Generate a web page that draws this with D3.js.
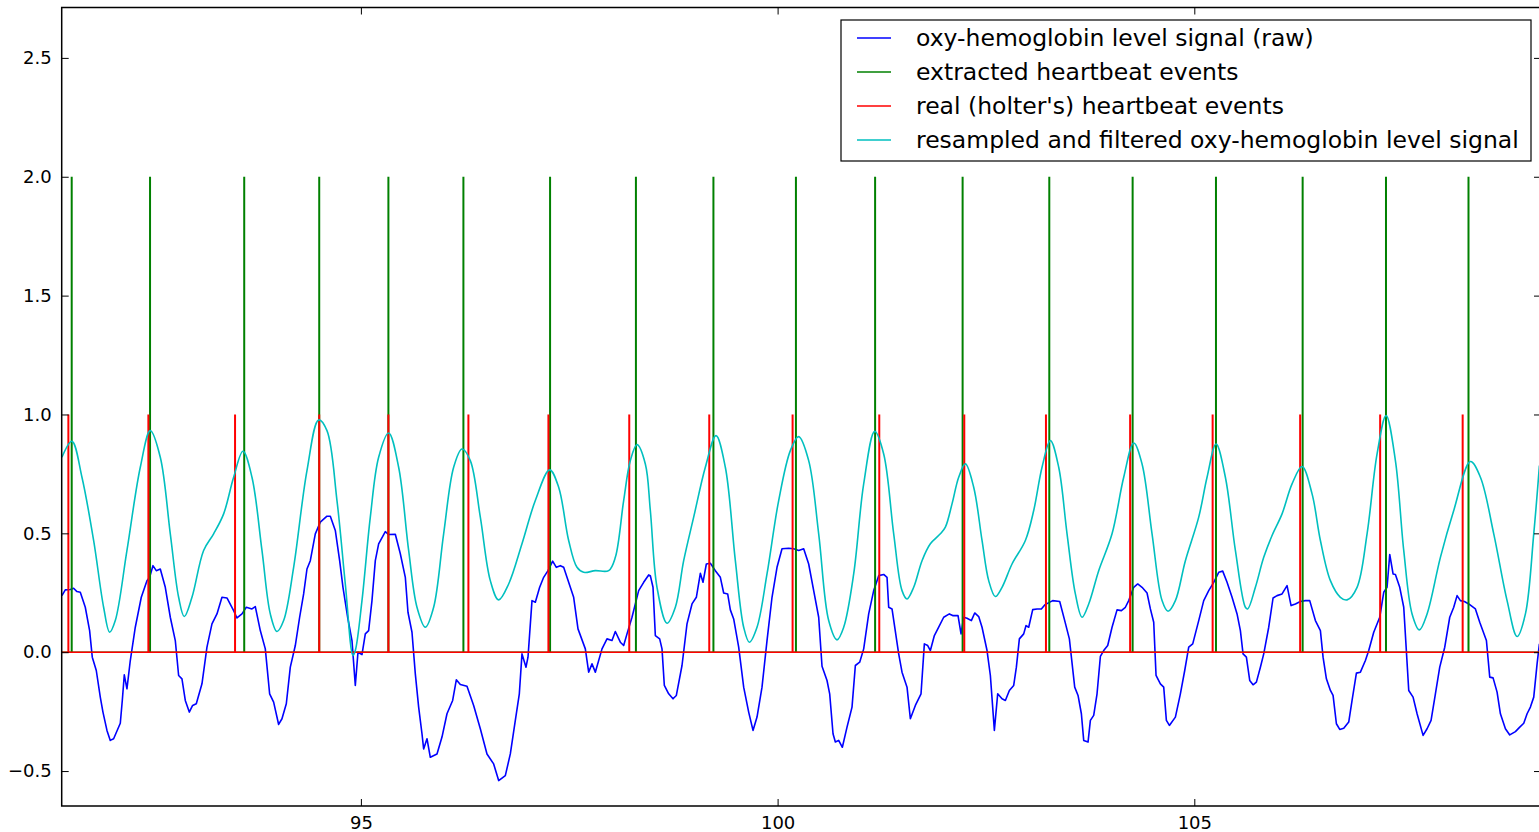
<!DOCTYPE html>
<html>
<head>
<meta charset="utf-8">
<script src="https://cdn.jsdelivr.net/npm/d3@7"></script>
<style>
	body {margin: 0; background: #fff;}
	text {font-family: "DejaVu Sans", sans-serif; fill: #000;}
</style>
</head>
<body>
<svg id="chart" width="1539" height="832"></svg>
<script>
// Raw oxy-hemoglobin level signal, [time, level].
var rawSignal = [
	[91.413,0.238],[91.453,0.262],[91.513,0.264],[91.553,0.269],[91.593,0.255],[91.633,0.252],[91.693,0.189],
	[91.745,0.091],[91.777,-0.021],[91.825,-0.077],[91.873,-0.189],[91.905,-0.252],[91.953,-0.329],[91.993,-0.371],
	[92.033,-0.364],[92.113,-0.299],[92.137,-0.203],[92.161,-0.095],[92.193,-0.154],[92.233,-0.035],[92.293,0.105],
	[92.365,0.231],[92.433,0.301],[92.465,0.315],[92.505,0.364],[92.545,0.343],[92.593,0.350],[92.653,0.273],
	[92.713,0.147],[92.773,0.049],[92.813,-0.098],[92.853,-0.112],[92.893,-0.203],[92.941,-0.252],[92.981,-0.224],
	[93.025,-0.217],[93.093,-0.133],[93.153,0.021],[93.213,0.119],[93.273,0.161],[93.333,0.231],[93.393,0.228],
	[93.473,0.175],[93.513,0.144],[93.573,0.161],[93.625,0.189],[93.693,0.182],[93.733,0.192],[93.793,0.091],
	[93.853,0.014],[93.905,-0.175],[93.953,-0.210],[94.013,-0.304],[94.053,-0.280],[94.105,-0.217],[94.153,-0.063],
	[94.213,0.028],[94.265,0.147],[94.313,0.245],[94.353,0.350],[94.393,0.385],[94.453,0.498],[94.513,0.547],
	[94.593,0.572],[94.633,0.572],[94.693,0.512],[94.745,0.385],[94.785,0.273],[94.841,0.147],[94.893,0.049],
	[94.933,-0.140],[94.965,0.000],[95.013,-0.010],[95.053,0.077],[95.093,0.091],[95.133,0.217],[95.173,0.385],
	[95.213,0.456],[95.293,0.507],[95.333,0.495],[95.413,0.496],[95.473,0.414],[95.533,0.315],[95.565,0.168],
	[95.613,0.084],[95.653,-0.091],[95.693,-0.231],[95.733,-0.343],[95.753,-0.407],[95.793,-0.364],[95.833,-0.442],
	[95.913,-0.428],[95.973,-0.357],[96.033,-0.259],[96.101,-0.203],[96.145,-0.116],[96.193,-0.136],[96.273,-0.143],
	[96.353,-0.224],[96.433,-0.322],[96.513,-0.428],[96.593,-0.470],[96.653,-0.540],[96.733,-0.519],[96.793,-0.428],
	[96.853,-0.287],[96.901,-0.175],[96.933,-0.007],[96.981,-0.063],[97.005,-0.021],[97.053,0.217],[97.093,0.210],
	[97.145,0.273],[97.193,0.315],[97.245,0.343],[97.301,0.383],[97.345,0.357],[97.393,0.364],[97.433,0.357],
	[97.473,0.315],[97.553,0.231],[97.605,0.098],[97.693,0.014],[97.733,-0.084],[97.773,-0.049],[97.813,-0.084],
	[97.893,0.014],[97.953,0.056],[98.013,0.049],[98.053,0.087],[98.113,0.042],[98.153,0.028],[98.193,0.077],
	[98.253,0.147],[98.333,0.259],[98.393,0.294],[98.453,0.325],[98.473,0.322],[98.505,0.273],[98.533,0.070],
	[98.585,0.056],[98.613,0.014],[98.641,-0.140],[98.693,-0.175],[98.745,-0.196],[98.785,-0.182],[98.853,-0.056],
	[98.913,0.119],[98.973,0.203],[99.025,0.231],[99.073,0.332],[99.105,0.294],[99.145,0.371],[99.193,0.374],
	[99.253,0.343],[99.313,0.315],[99.353,0.249],[99.401,0.245],[99.433,0.178],[99.473,0.140],[99.533,0.021],
	[99.593,-0.147],[99.653,-0.252],[99.705,-0.329],[99.753,-0.273],[99.813,-0.147],[99.873,0.049],[99.933,0.231],
	[99.993,0.357],[100.053,0.435],[100.133,0.437],[100.193,0.435],[100.253,0.428],[100.313,0.435],[100.373,0.371],
	[100.433,0.259],[100.493,0.147],[100.533,-0.059],[100.593,-0.119],[100.625,-0.175],[100.665,-0.343],[100.693,-0.378],
	[100.733,-0.371],[100.777,-0.400],[100.833,-0.315],[100.893,-0.231],[100.933,-0.056],[100.985,-0.042],[101.033,0.014],
	[101.093,0.161],[101.153,0.259],[101.213,0.322],[101.273,0.327],[101.313,0.315],[101.333,0.189],[101.373,0.182],
	[101.453,-0.007],[101.493,-0.084],[101.553,-0.147],[101.593,-0.280],[101.653,-0.224],[101.721,-0.175],[101.761,0.035],
	[101.801,0.028],[101.833,0.007],[101.881,0.070],[101.933,0.105],[101.993,0.147],[102.061,0.161],[102.101,0.154],
	[102.165,0.154],[102.201,0.077],[102.233,0.147],[102.273,0.143],[102.325,0.133],[102.365,0.165],[102.413,0.150],
	[102.453,0.105],[102.513,0.007],[102.553,-0.098],[102.601,-0.329],[102.641,-0.175],[102.693,-0.196],[102.733,-0.203],
	[102.781,-0.161],[102.833,-0.140],[102.865,-0.063],[102.901,0.056],[102.953,0.077],[102.981,0.112],[103.013,0.105],
	[103.061,0.179],[103.113,0.182],[103.165,0.182],[103.205,0.199],[103.301,0.217],[103.385,0.213],[103.445,0.133],
	[103.501,0.056],[103.565,-0.147],[103.605,-0.182],[103.645,-0.259],[103.673,-0.371],[103.725,-0.378],[103.753,-0.287],
	[103.793,-0.266],[103.833,-0.175],[103.873,-0.018],[103.913,0.007],[103.961,0.028],[104.013,0.105],[104.073,0.178],
	[104.125,0.175],[104.173,0.189],[104.213,0.217],[104.273,0.273],[104.321,0.287],[104.373,0.273],[104.433,0.249],
	[104.473,0.182],[104.513,0.126],[104.541,-0.098],[104.593,-0.133],[104.633,-0.147],[104.665,-0.287],[104.701,-0.308],
	[104.773,-0.273],[104.833,-0.175],[104.885,-0.077],[104.933,0.021],[104.981,0.035],[105.053,0.133],[105.113,0.217],
	[105.173,0.259],[105.233,0.294],[105.293,0.336],[105.341,0.341],[105.393,0.294],[105.453,0.231],[105.513,0.161],
	[105.553,0.091],[105.585,-0.007],[105.625,-0.021],[105.665,-0.119],[105.705,-0.137],[105.745,-0.126],[105.793,-0.063],
	[105.833,-0.007],[105.893,0.105],[105.945,0.228],[105.993,0.238],[106.053,0.245],[106.113,0.280],[106.161,0.196],
	[106.213,0.203],[106.273,0.213],[106.333,0.217],[106.385,0.217],[106.453,0.133],[106.513,0.091],[106.545,-0.021],
	[106.585,-0.112],[106.633,-0.161],[106.665,-0.182],[106.705,-0.301],[106.745,-0.325],[106.793,-0.320],[106.853,-0.294],
	[106.893,-0.203],[106.945,-0.088],[106.993,-0.084],[107.053,-0.035],[107.093,0.007],[107.153,0.084],[107.225,0.147],
	[107.273,0.252],[107.313,0.273],[107.345,0.411],[107.385,0.329],[107.413,0.327],[107.465,0.273],[107.513,0.189],
	[107.573,-0.161],[107.625,-0.189],[107.673,-0.259],[107.745,-0.350],[107.793,-0.322],[107.841,-0.287],[107.893,-0.175],
	[107.945,-0.063],[108.005,0.021],[108.065,0.147],[108.113,0.189],[108.153,0.238],[108.193,0.217],[108.241,0.213],
	[108.293,0.203],[108.373,0.182],[108.425,0.126],[108.505,0.049],[108.545,-0.105],[108.585,-0.108],[108.633,-0.168],
	[108.673,-0.259],[108.733,-0.322],[108.785,-0.348],[108.853,-0.334],[108.905,-0.315],[108.953,-0.299],[108.993,-0.259],
	[109.033,-0.231],[109.073,-0.189],[109.113,-0.049],[109.141,0.035]
];

// Resampled and filtered signal, [time, level].
var filteredSignal = [
	[91.413,0.820],[91.533,0.887],[91.653,0.736],[91.793,0.470],[91.913,0.189],[91.985,0.084],[92.053,0.133],
	[92.193,0.428],[92.353,0.778],[92.473,0.932],[92.593,0.820],[92.713,0.498],[92.813,0.231],[92.881,0.150],
	[92.973,0.231],[93.113,0.428],[93.233,0.498],[93.353,0.582],[93.473,0.736],[93.585,0.845],[93.693,0.736],
	[93.813,0.428],[93.913,0.161],[93.993,0.087],[94.073,0.133],[94.193,0.357],[94.353,0.764],[94.493,0.977],
	[94.593,0.932],[94.713,0.638],[94.813,0.287],[94.905,-0.014],[94.933,0.007],[95.013,0.217],[95.113,0.568],
	[95.213,0.820],[95.333,0.922],[95.453,0.778],[95.573,0.428],[95.673,0.189],[95.773,0.105],[95.873,0.189],
	[95.993,0.498],[96.113,0.778],[96.213,0.855],[96.313,0.806],[96.433,0.568],[96.553,0.301],[96.653,0.220],
	[96.773,0.287],[96.933,0.456],[97.093,0.638],[97.265,0.767],[97.373,0.694],[97.493,0.470],[97.593,0.357],
	[97.673,0.336],[97.813,0.343],[97.973,0.343],[98.053,0.399],[98.153,0.638],[98.233,0.806],[98.313,0.873],
	[98.413,0.792],[98.473,0.596],[98.553,0.273],[98.673,0.122],[98.773,0.189],[98.873,0.385],[98.993,0.568],
	[99.133,0.778],[99.261,0.911],[99.373,0.778],[99.493,0.385],[99.593,0.105],[99.661,0.042],[99.753,0.105],
	[99.873,0.329],[100.013,0.638],[100.153,0.848],[100.253,0.907],[100.373,0.806],[100.493,0.498],[100.613,0.133],
	[100.713,0.052],[100.793,0.105],[100.913,0.329],[101.033,0.708],[101.165,0.929],[101.273,0.834],[101.393,0.498],
	[101.493,0.259],[101.553,0.224],[101.633,0.273],[101.733,0.385],[101.833,0.456],[101.953,0.498],[102.013,0.526],
	[102.093,0.624],[102.173,0.736],[102.253,0.792],[102.353,0.694],[102.453,0.470],[102.533,0.301],[102.613,0.234],
	[102.693,0.273],[102.813,0.371],[102.973,0.470],[103.073,0.596],[103.173,0.778],[103.273,0.890],[103.373,0.778],
	[103.473,0.498],[103.573,0.245],[103.653,0.147],[103.733,0.203],[103.853,0.343],[104.013,0.498],[104.153,0.736],
	[104.273,0.880],[104.373,0.792],[104.493,0.498],[104.613,0.217],[104.685,0.172],[104.773,0.217],[104.893,0.385],
	[105.053,0.568],[105.153,0.736],[105.261,0.876],[105.373,0.736],[105.493,0.428],[105.613,0.189],[105.641,0.182],
	[105.733,0.273],[105.833,0.399],[105.933,0.491],[106.053,0.582],[106.173,0.708],[106.293,0.781],[106.413,0.666],
	[106.513,0.470],[106.633,0.301],[106.753,0.231],[106.833,0.220],[106.953,0.273],[107.073,0.498],[107.193,0.834],
	[107.301,0.995],[107.413,0.806],[107.513,0.428],[107.613,0.161],[107.701,0.094],[107.793,0.161],[107.953,0.399],
	[108.113,0.596],[108.313,0.802],[108.433,0.736],[108.593,0.498],[108.753,0.217],[108.873,0.066],[108.973,0.161],
	[109.073,0.498],[109.141,0.785]
];

// Heartbeat event times.
var extractedBeats = [91.53, 92.47, 93.60, 94.50, 95.33, 96.23, 97.27, 98.30, 99.23,
	100.22, 101.17, 102.22, 103.26, 104.26, 105.26, 106.30, 107.30, 108.29];
var holterBeats = [91.49, 92.45, 93.49, 94.50, 95.33, 96.29, 97.25, 98.22, 99.18,
	100.18, 101.22, 102.24, 103.22, 104.23, 105.22, 106.27, 107.23, 108.22];
var extractedHeight = 2, holterHeight = 1;

var xTicks = [95, 100, 105];
var yTicks = [-0.5, 0.0, 0.5, 1.0, 1.5, 2.0, 2.5];
var legendLabels = [
	'oxy-hemoglobin level signal (raw)',
	'extracted heartbeat events',
	'real (holter\'s) heartbeat events',
	'resampled and filtered oxy-hemoglobin level signal'];
var legendColors = ['#0000ff', '#008000', '#ff0000', '#00bfbf'];

(function() {
	'use strict';

	var svg = d3.select('#chart'),
			left = 61.7, right = 1541, top = 7.5, bottom = 806;

	var x = d3.scaleLinear().domain([91.41, 109.16]).range([left, right]);
	var y = d3.scaleLinear().domain([-0.647, 2.712]).range([bottom, top]);

	svg.append('clipPath').attr('id', 'plot-clip')
		.append('rect')
		.attr('x', left).attr('y', top)
		.attr('width', right - left).attr('height', bottom - top);

	var plot = svg.append('g').attr('clip-path', 'url(#plot-clip)');

	var line = d3.line()
		.x(function(d) {return x(d[0]);})
		.y(function(d) {return y(d[1]);});

	// Raw signal first, then the event traces, then the filtered signal on top.
	plot.append('path')
		.datum(rawSignal)
		.attr('fill', 'none')
		.attr('stroke', legendColors[0])
		.attr('stroke-width', 1.6)
		.attr('stroke-linejoin', 'round')
		.attr('d', line);

	function drawEvents(events, height, color) {
		plot.append('line')
			.attr('x1', left).attr('x2', right)
			.attr('y1', y(0)).attr('y2', y(0))
			.attr('stroke', color)
			.attr('stroke-width', 1.6);
		plot.selectAll(null).data(events).enter()
			.append('line')
			.attr('x1', function(d) {return x(d);})
			.attr('x2', function(d) {return x(d);})
			.attr('y1', y(0))
			.attr('y2', y(height))
			.attr('stroke', color)
			.attr('stroke-width', 2);}

	drawEvents(extractedBeats, extractedHeight, legendColors[1]);
	drawEvents(holterBeats, holterHeight, legendColors[2]);

	plot.append('path')
		.datum(filteredSignal)
		.attr('fill', 'none')
		.attr('stroke', legendColors[3])
		.attr('stroke-width', 1.6)
		.attr('d', line.curve(d3.curveCatmullRom.alpha(0.5)));

	// Axes, ticks pointing inward.
	function styleAxis(g) {
		g.select('.domain').remove();
		g.selectAll('.tick line').attr('stroke', '#000').attr('stroke-width', 1);
		g.selectAll('.tick text')
			.style('font-size', '18px')
			.style('font-family', '"DejaVu Sans", sans-serif')
			.attr('fill', '#000');}

	svg.append('g')
		.attr('transform', 'translate(0,' + bottom + ')')
		.call(d3.axisBottom(x).tickValues(xTicks).tickFormat(d3.format('d'))
			.tickSizeInner(-7).tickSizeOuter(0).tickPadding(10))
		.call(styleAxis);
	svg.append('g')
		.attr('transform', 'translate(0,' + top + ')')
		.call(d3.axisTop(x).tickValues(xTicks).tickFormat('')
			.tickSizeInner(-7).tickSizeOuter(0))
		.call(styleAxis);
	svg.append('g')
		.attr('transform', 'translate(' + left + ',0)')
		.call(d3.axisLeft(y).tickValues(yTicks).tickFormat(d3.format('.1f'))
			.tickSizeInner(-7).tickSizeOuter(0).tickPadding(10))
		.call(styleAxis);
	svg.append('g')
		.attr('transform', 'translate(' + right + ',0)')
		.call(d3.axisRight(y).tickValues(yTicks).tickFormat('')
			.tickSizeInner(-7).tickSizeOuter(0))
		.call(styleAxis);

	svg.append('rect')
		.attr('x', left).attr('y', top)
		.attr('width', right - left).attr('height', bottom - top)
		.attr('fill', 'none')
		.attr('stroke', '#000')
		.attr('stroke-width', 1.5);

	// Legend.
	var legend = svg.append('g').attr('transform', 'translate(841,20)');
	legend.append('rect')
		.attr('width', 690).attr('height', 141)
		.attr('fill', '#fff')
		.attr('stroke', '#000')
		.attr('stroke-width', 1.2);
	var rows = legend.selectAll('.row').data(legendLabels).enter()
		.append('g').attr('class', 'row')
		.attr('transform', function(d, i) {return 'translate(0,' + (18 + i * 34) + ')';});
	rows.append('line')
		.attr('x1', 16).attr('x2', 50)
		.attr('stroke', function(d, i) {return legendColors[i];})
		.attr('stroke-width', 1.6);
	rows.append('text')
		.attr('x', 75)
		.attr('dy', '0.35em')
		.style('font-size', '23.5px')
		.text(function(d) {return d;});
})();
</script>
</body>
</html>
